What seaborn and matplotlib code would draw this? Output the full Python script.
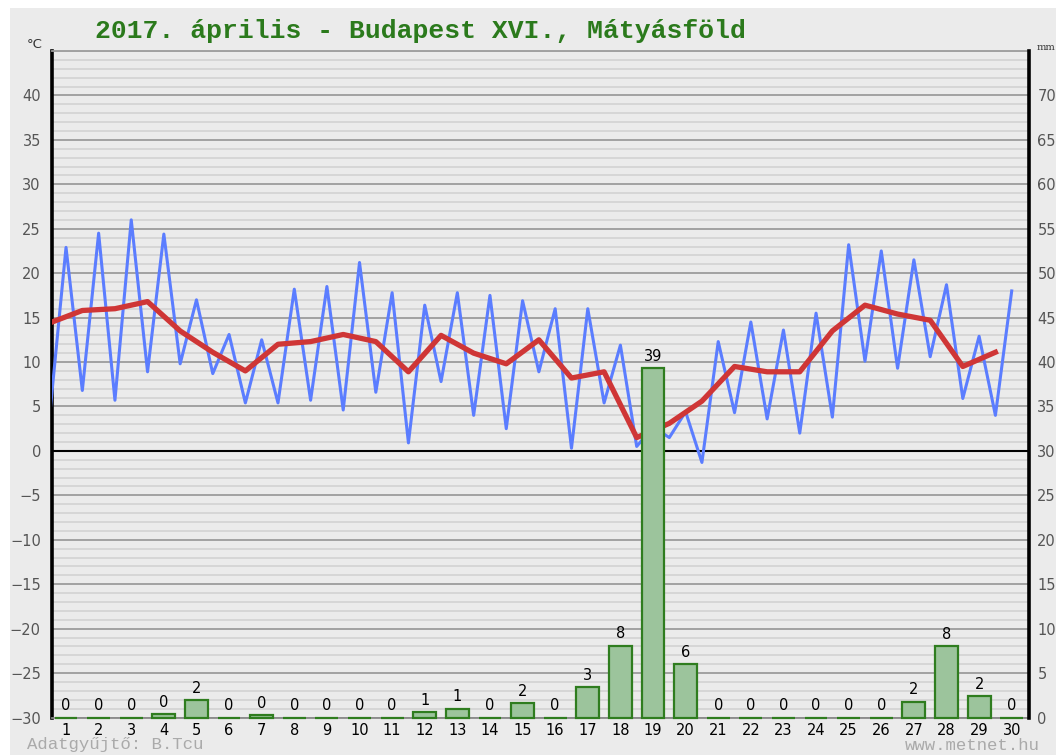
import matplotlib
matplotlib.use("Agg")
import matplotlib.pyplot as plt
from matplotlib.patches import Rectangle
import numpy as np
import pandas as pd
import seaborn as sns

# --------------------------------------------------------------------------
# Data

days = list(range(1, 31))

# Daily precipitation [mm]
precip_mm = [0, 0, 0, 0.4, 2.0, 0, 0.3, 0, 0, 0, 0, 0.6, 1.0, 0, 1.6,
             0, 3.4, 8.1, 39.3, 6.0, 0, 0, 0, 0, 0, 0, 1.8, 8.0, 2.4, 0]

# Half-daily temperature readings [°C], first one at day 0.5
temp_half_day = [4.0, 22.9, 6.8, 24.5, 5.7, 26.0, 8.9, 24.4, 9.8, 17.0,
                 8.7, 13.1, 5.4, 12.5, 5.4, 18.2, 5.7, 18.5, 4.6, 21.2,
                 6.6, 17.8, 0.9, 16.4, 7.8, 17.8, 4.0, 17.5, 2.5, 16.9,
                 8.9, 16.0, 0.3, 16.0, 5.4, 11.9, 0.5, 2.7, 1.5, 4.4,
                 -1.3, 12.3, 4.3, 14.5, 3.6, 13.6, 2.0, 15.5, 3.8, 23.2,
                 10.1, 22.5, 9.3, 21.5, 10.6, 18.7, 5.9, 12.9, 4.0, 18.0]

# Daily mean temperature [°C], plotted between the days
temp_mean = [14.4, 15.8, 16.0, 16.8, 13.5, 11.1, 9.0, 12.0, 12.3, 13.1,
             12.3, 8.9, 13.0, 11.0, 9.8, 12.5, 8.2, 8.9, 1.5, 3.1,
             5.6, 9.5, 8.9, 8.9, 13.5, 16.4, 15.4, 14.7, 9.5, 11.1]

title = "2017. április - Budapest XVI., Mátyásföld"

df_temp = pd.DataFrame({
    "t": np.arange(1, len(temp_half_day) + 1) / 2.0,
    "temp": temp_half_day,
})
df_mean = pd.DataFrame({"t": np.array(days) - 0.5, "temp": temp_mean})
df_rain = pd.DataFrame({"day": days, "mm": precip_mm})

# --------------------------------------------------------------------------
# Figure

W, H = 1056, 755
bg = "#ebebeb"

fig = plt.figure(figsize=(W / 100, H / 100), dpi=100, facecolor="white")
fig.patches.append(
    Rectangle((10 / W, 0), 1, 1 - 8 / H, transform=fig.transFigure,
              facecolor=bg, edgecolor="none", zorder=-10)
)

left, right, top, bottom = 52 / W, 1029 / W, 1 - 51 / H, 1 - 717.5 / H
ax = fig.add_axes([left, bottom, right - left, top - bottom])
ax.set_facecolor(bg)

# Temperature lines
sns.lineplot(data=df_temp, x="t", y="temp", ax=ax, color="#5b7dff",
             linewidth=2.2, zorder=3)
sns.lineplot(data=df_mean, x="t", y="temp", ax=ax, color="#cf3636",
             linewidth=3.8, zorder=4)
ax.axhline(0, color="black", linewidth=1.5, zorder=2)

ax.set_ylim(-30, 45)
ax.set_xlim(0.57, 30.53)
ax.set_yticks(np.arange(-30, 45, 5))
ax.set_yticks(np.arange(-30, 46, 1), minor=True)
ax.set_xticks(days)
ax.set_xticklabels([str(d) for d in days])
ax.grid(which="minor", axis="y", color="#d4d4d4", linewidth=1.3)
ax.grid(which="major", axis="y", color="#9c9c9c", linewidth=1.3)
ax.grid(False, axis="x", which="both")
ax.set_axisbelow(True)
ax.tick_params(axis="y", which="both", length=0, pad=8,
               labelsize=10.5, labelcolor="#555555")
ax.tick_params(axis="x", which="both", length=0, pad=4,
               labelsize=10.5, labelcolor="black")
ax.set_xlabel("")
ax.set_ylabel("")
ax.spines["left"].set_color("black")
ax.spines["left"].set_linewidth(2.6)
ax.spines["right"].set_visible(False)
ax.spines["top"].set_color("#9c9c9c")
ax.spines["top"].set_linewidth(1.3)
ax.spines["bottom"].set_color("#8a8a8a")
ax.spines["bottom"].set_linewidth(1.3)

# Precipitation bars on the right-hand mm axis (drawn over the lines)
ax2 = ax.twinx()
sns.barplot(data=df_rain, x="day", y="mm", ax=ax2, native_scale=True,
            color="#9cc49c", saturation=1, edgecolor="#2f7d1f",
            linewidth=1.6, width=0.7, errorbar=None)
for bar in ax2.containers[0]:
    # zero-rain days still show a thin green line on the baseline
    bar.set_clip_on(False)
ax2.set_ylim(0, 75)
ax2.set_xlim(0.57, 30.53)
ax2.set_yticks(np.arange(0, 75, 5))
ax2.tick_params(axis="y", length=0, pad=6, labelsize=10.5,
                labelcolor="#555555")
ax2.set_ylabel("")
ax2.set_xlabel("")
ax2.xaxis.set_visible(False)
for side in ["left", "top", "bottom"]:
    ax2.spines[side].set_visible(False)
ax2.spines["right"].set_color("black")
ax2.spines["right"].set_linewidth(2.6)

ax2.bar_label(ax2.containers[0], labels=[f"{v:.0f}" for v in precip_mm],
              padding=3, fontsize=10.5, color="black")

# Texts
fig.text(95 / W, 1 - 31 / H, title, ha="left", va="center",
         family="Liberation Mono", fontweight="bold", fontsize=19,
         color="#2b7a1c")
fig.text(35 / W, 1 - 45 / H, "°C", ha="center", va="center",
         fontsize=9.5, color="#333333")
fig.text(1037 / W, 1 - 47 / H, "mm", ha="left", va="center",
         family="DejaVu Serif", fontsize=7, color="#333333")
fig.text(27 / W, 1 - 745 / H, "Adatgyűjtő: B.Tcu", ha="left", va="center",
         family="Liberation Mono", fontsize=12.5, color="#aaaaaa")
fig.text(1040 / W, 1 - 746 / H, "www.metnet.hu", ha="right", va="center",
         family="Liberation Mono", fontsize=12.5, color="#aaaaaa")

fig.savefig("out.png", dpi=100, facecolor=fig.get_facecolor())
